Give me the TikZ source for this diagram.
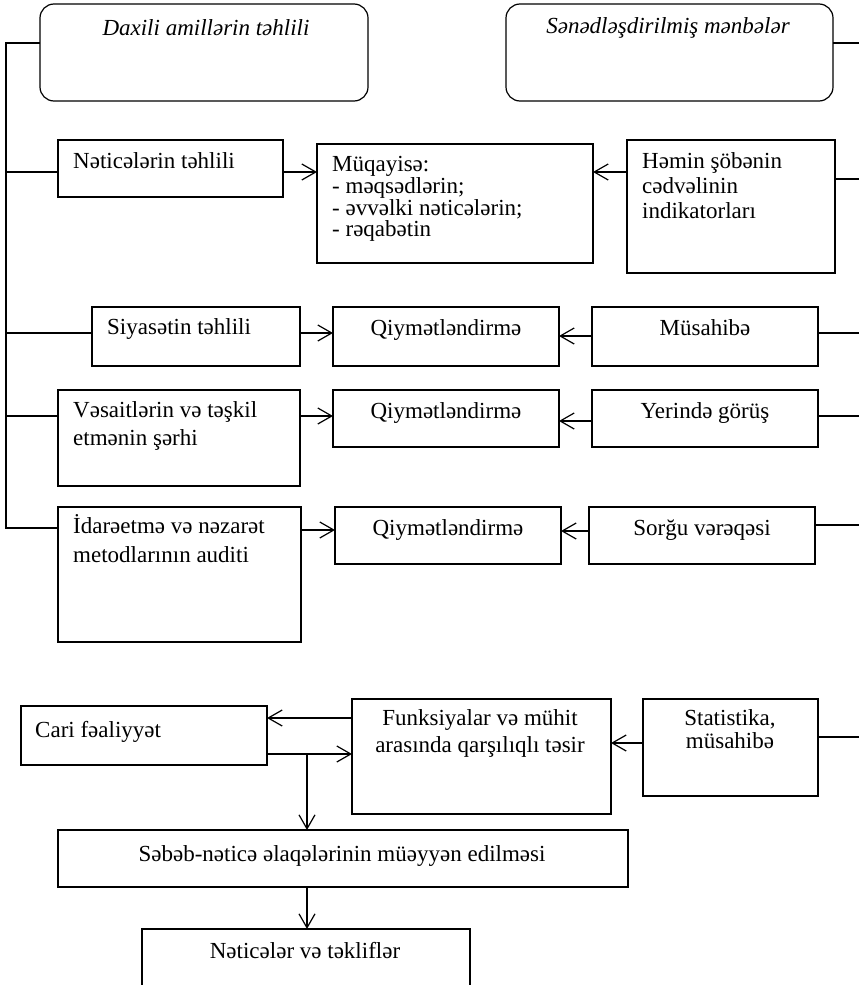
\documentclass[tikz,border=0pt]{standalone}
\usepackage{fontspec}
\setmainfont{Liberation Serif}
\usetikzlibrary{arrows.meta}
\begin{document}
\begin{tikzpicture}[x=1pt,y=-1pt,
  box/.style={draw, line width=1.2pt, inner sep=0pt, outer sep=0pt, anchor=north west},
  rbox/.style={box, rounded corners=14pt},
  lbl/.style={inner sep=0pt, font=\fontsize{23}{27}\selectfont},
  ital/.style={inner sep=0pt, font=\fontsize{23}{27}\selectfont\itshape},
  link/.style={line width=1.2pt},
  arr/.style={link, -{Straight Barb[length=14pt,width=16pt]}}
]
\useasboundingbox (0,0) rectangle (859,985);
\clip (0,0) rectangle (859,985);

% --- header boxes
\node[rbox, minimum width=328pt, minimum height=97pt] (dax) at (40,4) {};
\node[rbox, minimum width=327pt, minimum height=97pt] (sen) at (506,4) {};
\node[ital, anchor=base] (dax-t) at (206,35) {Daxili amillərin təhlili};
\node[ital, anchor=base] (sen-t) at (668,33) {Sənədləşdirilmiş mənbələr};

% --- row 1
\node[box, minimum width=225pt, minimum height=57pt] (net) at (58,140) {};
\node[box, minimum width=276pt, minimum height=119pt] (cmp) at (317,144) {};
\node[box, minimum width=208pt, minimum height=133pt] (hem) at (627,140) {};
\node[lbl, anchor=base west] (net-t) at (73,168) {Nəticələrin təhlili};
\node[lbl, anchor=base west] (cmp-t1) at (332,171) {Müqayisə:};
\node[lbl, anchor=base west] (cmp-t2) at (332,193) {- məqsədlərin;};
\node[lbl, anchor=base west] (cmp-t3) at (332,215) {- əvvəlki nəticələrin;};
\node[lbl, anchor=base west] (cmp-t4) at (332,236) {- rəqabətin};
\node[lbl, anchor=base west] (hem-t1) at (642,168) {Həmin şöbənin};
\node[lbl, anchor=base west] (hem-t2) at (642,193) {cədvəlinin};
\node[lbl, anchor=base west] (hem-t3) at (642,218) {indikatorları};

% --- row 2
\node[box, minimum width=208pt, minimum height=59pt] (siy) at (92,307) {};
\node[box, minimum width=226pt, minimum height=59pt] (q1) at (333,307) {};
\node[box, minimum width=226pt, minimum height=59pt] (mus) at (592,307) {};
\node[lbl, anchor=base west] (siy-t) at (107,334) {Siyasətin təhlili};
\node[lbl, anchor=base] (q1-t) at (446,335) {Qiymətləndirmə};
\node[lbl, anchor=base] (mus-t) at (705,335) {Müsahibə};

% --- row 3
\node[box, minimum width=242pt, minimum height=96pt] (ves) at (58,390) {};
\node[box, minimum width=226pt, minimum height=57pt] (q2) at (333,390) {};
\node[box, minimum width=226pt, minimum height=57pt] (yer) at (592,390) {};
\node[lbl, anchor=base west] (ves-t1) at (73,417) {Vəsaitlərin və təşkil};
\node[lbl, anchor=base west] (ves-t2) at (73,445) {etmənin şərhi};
\node[lbl, anchor=base] (q2-t) at (446,418) {Qiymətləndirmə};
\node[lbl, anchor=base] (yer-t) at (705,418) {Yerində görüş};

% --- row 4
\node[box, minimum width=243pt, minimum height=135pt] (idr) at (58,507) {};
\node[box, minimum width=226pt, minimum height=57pt] (q3) at (335,507) {};
\node[box, minimum width=226pt, minimum height=57pt] (sor) at (589,507) {};
\node[lbl, anchor=base west] (idr-t1) at (73,533) {İdarəetmə və nəzarət};
\node[lbl, anchor=base west] (idr-t2) at (73,562) {metodlarının auditi};
\node[lbl, anchor=base] (q3-t) at (448,535) {Qiymətləndirmə};
\node[lbl, anchor=base] (sor-t) at (702,535) {Sorğu vərəqəsi};

% --- lower block
\node[box, minimum width=246pt, minimum height=59pt] (cari) at (21,706) {};
\node[box, minimum width=259pt, minimum height=115pt] (fun) at (352,699) {};
\node[box, minimum width=175pt, minimum height=97pt] (stat) at (643,699) {};
\node[box, minimum width=570pt, minimum height=57pt] (seb) at (58,830) {};
\node[box, minimum width=328pt, minimum height=80pt] (nt) at (142,929) {};
\node[lbl, anchor=base west] (cari-t) at (35,737) {Cari fəaliyyət};
\node[lbl, anchor=base] (fun-t1) at (480,725) {Funksiyalar və mühit};
\node[lbl, anchor=base] (fun-t2) at (480,752) {arasında qarşılıqlı təsir};
\node[lbl, anchor=base] (stat-t1) at (730,725) {Statistika,};
\node[lbl, anchor=base] (stat-t2) at (730,748) {müsahibə};
\node[lbl, anchor=base] (seb-t) at (342,861) {Səbəb-nəticə əlaqələrinin müəyyən edilməsi};
\node[lbl, anchor=base] (nt-t) at (305,958) {Nəticələr və təkliflər};

% --- left bus joining the analysis steps
\coordinate (busT) at (6,43);
\coordinate (busB) at (6,528);
\draw[link] (dax.west |- busT) -- (busT) -- (busB) -- (idr.west |- busB);
\draw[link] (busT |- 0,172) -- (net.west |- 0,172);
\draw[link] (busT |- 0,333) -- (siy.west |- 0,333);
\draw[link] (busT |- 0,416) -- (ves.west |- 0,416);

% --- lines leaving to the right edge
\coordinate (e1) at (859,43);
\coordinate (e2) at (859,179);
\coordinate (e3) at (859,333);
\coordinate (e4) at (859,416);
\coordinate (e5) at (859,525);
\coordinate (e6) at (859,737);
\draw[link] (sen.east |- e1) -- (e1);
\draw[link] (hem.east |- e2) -- (e2);
\draw[link] (mus.east |- e3) -- (e3);
\draw[link] (yer.east |- e4) -- (e4);
\draw[link] (sor.east |- e5) -- (e5);
\draw[link] (stat.east |- e6) -- (e6);

% --- arrows of the upper block
\draw[arr] (net.east |- 0,172) -- (cmp.west |- 0,172);
\draw[arr] (hem.west |- 0,172) -- (cmp.east |- 0,172);
\draw[arr] (siy.east |- 0,333) -- (q1.west |- 0,333);
\draw[arr] (mus.west |- 0,336) -- (q1.east |- 0,336);
\draw[arr] (ves.east |- 0,416) -- (q2.west |- 0,416);
\draw[arr] (yer.west |- 0,421) -- (q2.east |- 0,421);
\draw[arr] (idr.east |- 0,530) -- (q3.west |- 0,530);
\draw[arr] (sor.west |- 0,531) -- (q3.east |- 0,531);

% --- arrows of the lower block
\coordinate (split) at (307,754);
\draw[arr] (fun.west |- 0,718) -- (cari.east |- 0,718);
\draw[arr] (cari.east |- split) -- (fun.west |- split);
\draw[arr] (stat.west |- 0,743) -- (fun.east |- 0,743);
\draw[arr] (split) -- (split |- seb.north);
\draw[arr] (split |- seb.south) -- (split |- nt.north);
\end{tikzpicture}
\end{document}
